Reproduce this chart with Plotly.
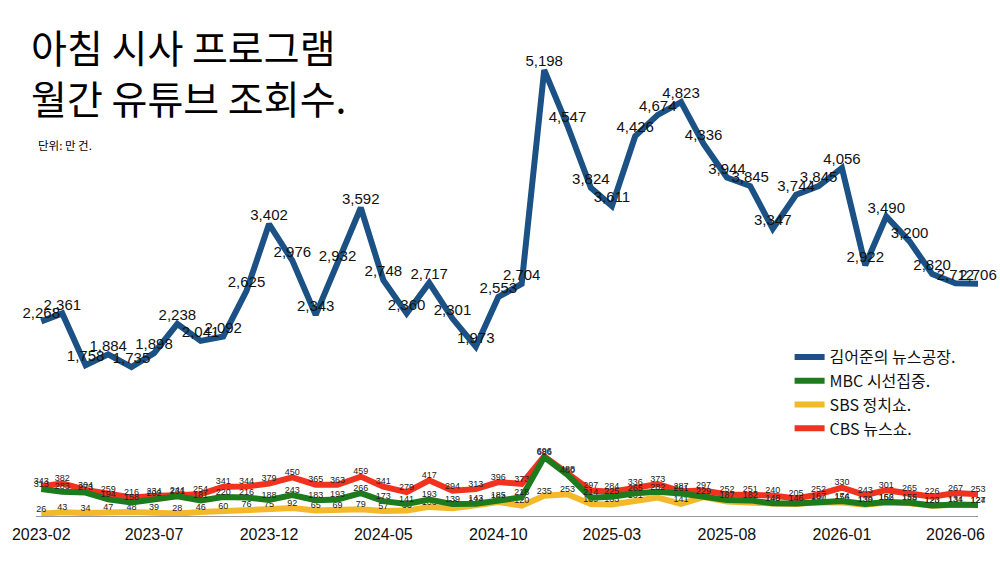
import plotly.graph_objects as go

months = [
    "2023-02", "2023-03", "2023-04", "2023-05", "2023-06", "2023-07", "2023-08", "2023-09",
    "2023-10", "2023-11", "2023-12", "2024-01", "2024-02", "2024-03", "2024-04", "2024-05",
    "2024-06", "2024-07", "2024-08", "2024-09", "2024-10", "2024-11", "2024-12", "2025-01",
    "2025-02", "2025-03", "2025-04", "2025-05", "2025-06", "2025-07", "2025-08", "2025-09",
    "2025-10", "2025-11", "2025-12", "2026-01", "2026-02", "2026-03", "2026-04", "2026-05",
    "2026-06", "2026-07",
]

kim = [2268, 2361, 1758, 1884, 1735, 1898, 2238, 2041, 2092, 2625, 3402, 2976, 2343, 2932,
       3592, 2748, 2360, 2717, 2301, 1973, 2553, 2704, 5198, 4547, 3824, 3611, 4426, 4674,
       4823, 4336, 3944, 3845, 3347, 3744, 3845, 4056, 2922, 3490, 3200, 2820, 2712, 2706]

mbc = [313, 283, 273, 194, 158, 202, 231, 181, 220, 216, 188, 243, 183, 193,
       266, 173, 141, 193, 139, 143, 185, 218, 686, 480, 214, 225, 265, 282,
       261, 229, 187, 182, 148, 146, 167, 174, 139, 162, 155, 123, 134, 127]

sbs = [26, 43, 34, 47, 48, 39, 28, 46, 60, 76, 75, 92, 65, 69,
       79, 57, 63, 106, 90, 124, 164, 120, 235, 253, 139, 133, 181, 215,
       141, 220, 169, 152, 145, 140, 160, 156, 130, 156, 148, 120, 131, 124]

cbs = [343, 382, 304, 259, 216, 234, 244, 254, 341, 344, 379, 450, 365, 363,
       459, 341, 279, 417, 294, 313, 396, 373, 696, 488, 297, 284, 336, 373,
       287, 297, 252, 251, 240, 205, 252, 330, 243, 301, 265, 226, 267, 253]

tick_labels = ["2023-02", "2023-07", "2023-12", "2024-05", "2024-10",
               "2025-03", "2025-08", "2026-01", "2026-06"]

title_lines = ["아침 시사 프로그램", "월간 유튜브 조회수."]
unit_note = "단위: 만 건."

x = [m + "-01" for m in months]

FONT = "Liberation Sans, Arial, Noto Sans CJK KR, sans-serif"
KFONT = "Noto Sans CJK KR, sans-serif"

W, H = 1000, 563
ML, MR, MT, MB = 33, 22, 20, 47
PW, PH = W - ML - MR, H - MT - MB


def fmt(vals):
    return [f"{v:,}" for v in vals]


def px_to_paper(px, py):
    return (px - ML) / PW, (H - MB - py) / PH


fig = go.Figure()

fig.add_trace(go.Scatter(
    x=x, y=kim, name="김어준의 뉴스공장.", mode="lines+text",
    line=dict(color="#1b5184", width=6), text=fmt(kim), textposition="top center",
    textfont=dict(size=15, color="#111", family=FONT), legendrank=1, cliponaxis=False,
))
fig.add_trace(go.Scatter(
    x=x, y=sbs, name="SBS 정치쇼.", mode="lines+text",
    line=dict(color="#f4b82b", width=6), text=fmt(sbs), textposition="top center",
    textfont=dict(size=9, color="#222", family=FONT), legendrank=3, cliponaxis=False,
))
fig.add_trace(go.Scatter(
    x=x, y=cbs, name="CBS 뉴스쇼.", mode="lines+text",
    line=dict(color="#f0321f", width=6), text=fmt(cbs), textposition="top center",
    textfont=dict(size=9, color="#222", family=FONT), legendrank=4, cliponaxis=False,
))
fig.add_trace(go.Scatter(
    x=x, y=mbc, name="MBC 시선집중.", mode="lines+text",
    line=dict(color="#1d7a1d", width=6), text=fmt(mbc), textposition="top center",
    textfont=dict(size=9, color="#222", family=FONT), legendrank=2, cliponaxis=False,
))

t1x, t1y = px_to_paper(26, 46)
t2x, t2y = px_to_paper(26, 97)
ux, uy = px_to_paper(33, 145)
lx, ly = px_to_paper(789, 340)

fig.update_layout(
    width=W, height=H,
    paper_bgcolor="white", plot_bgcolor="white",
    margin=dict(l=ML, r=MR, t=MT, b=MB),
    font=dict(family=FONT, color="#111"),
    showlegend=True,
    legend=dict(
        x=lx, y=ly, xanchor="left", yanchor="top",
        font=dict(size=16, family=KFONT, color="#111"),
        bgcolor="rgba(0,0,0,0)", itemwidth=30, tracegroupgap=0,
    ),
    xaxis=dict(
        type="date", range=["2023-01-25", "2026-07-01"],
        tickvals=[t + "-01" for t in tick_labels], ticktext=tick_labels,
        showgrid=False, zeroline=False, showline=True, linecolor="#999", linewidth=1,
        ticks="", tickfont=dict(size=16, color="#111", family=FONT),
        ticklabelstandoff=4,
    ),
    yaxis=dict(range=[0, 5780], visible=False, showgrid=False, zeroline=False),
    annotations=[
        dict(text=title_lines[0], x=t1x, y=t1y, xref="paper", yref="paper",
             xanchor="left", yanchor="middle", showarrow=False,
             font=dict(size=39, family=KFONT, color="#000")),
        dict(text=title_lines[1], x=t2x, y=t2y, xref="paper", yref="paper",
             xanchor="left", yanchor="middle", showarrow=False,
             font=dict(size=39, family=KFONT, color="#000")),
        dict(text=unit_note, x=ux, y=uy, xref="paper", yref="paper",
             xanchor="left", yanchor="middle", showarrow=False,
             font=dict(size=11.5, family=KFONT, color="#000")),
    ],
)

fig.write_html(
    "out.html",
    config={"displayModeBar": False},
    post_script="document.body.style.margin='0';document.body.style.padding='0';",
)
